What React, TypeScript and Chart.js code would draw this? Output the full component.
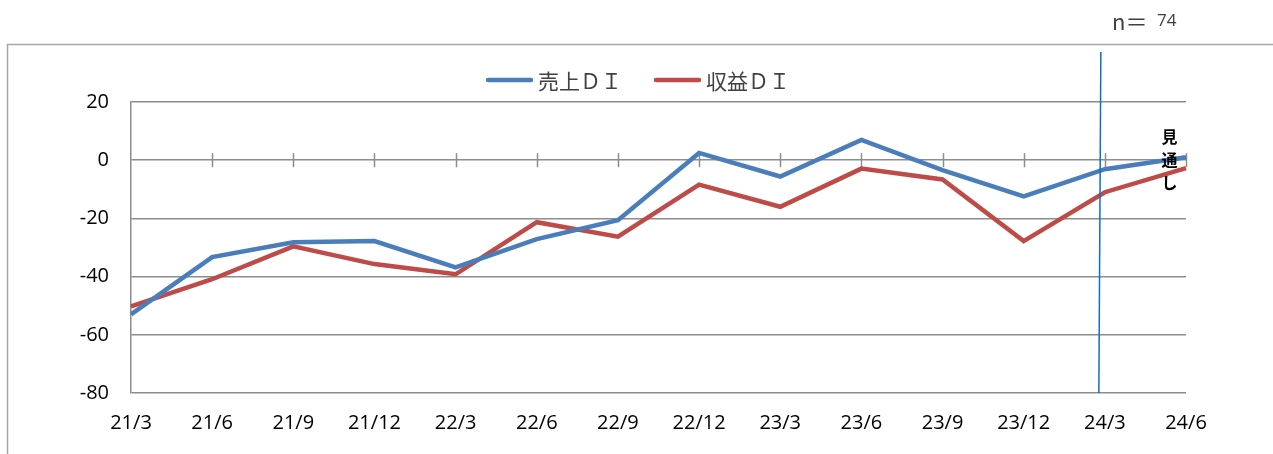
import React, { useEffect, useRef } from "react";
import { Chart, registerables } from "chart.js";

Chart.register(...registerables);

const categories = ["21/3", "21/6", "21/9", "21/12", "22/3", "22/6", "22/9", "22/12", "23/3", "23/6", "23/9", "23/12", "24/3", "24/6"];
const salesDI = [-53, -33.3, -28.2, -27.8, -36.8, -27.1, -20.6, 2.5, -5.6, 7.0, -3.4, -12.4, -3.1, 1.0];
const profitDI = [-50.2, -40.9, -29.6, -35.7, -39.2, -21.3, -26.3, -8.4, -16.0, -2.9, -6.6, -27.8, -11.0, -2.7];
const seriesLabels = ["売上ＤＩ", "収益ＤＩ"];
const seriesColors = ["#4A7EBB", "#BE4B48"];
const yMin = -80;
const yMax = 20;
const yStep = 20;
const sampleSizeLabel = "n＝";
const sampleSize = "74";
const forecastLabel = ["見", "通", "し"];
const forecastIndex = 12;

const W = 1273;
const H = 454;

const decorPlugin = {
  id: "decor",
  beforeDraw(chart: any) {
    const ctx = chart.ctx;
    ctx.save();
    ctx.fillStyle = "#ffffff";
    ctx.fillRect(0, 0, W, H);
    ctx.strokeStyle = "#a6a6a6";
    ctx.lineWidth = 1.5;
    ctx.strokeRect(7.5, 44.5, 1280, 440);
    ctx.restore();
  },
  beforeDatasetsDraw(chart: any) {
    const ctx = chart.ctx;
    const xs = chart.scales.x;
    const ys = chart.scales.y;
    const y0 = ys.getPixelForValue(0);
    ctx.save();
    ctx.strokeStyle = "#8c8c8c";
    ctx.lineWidth = 1.5;
    for (let i = 1; i < categories.length; i++) {
      const px = Math.round(xs.getPixelForValue(i)) + 0.5;
      ctx.beginPath();
      ctx.moveTo(px, y0 - 7);
      ctx.lineTo(px, y0 + 7);
      ctx.stroke();
    }
    ctx.restore();
  },
  afterDatasetsDraw(chart: any) {
    const ctx = chart.ctx;
    const xs = chart.scales.x;
    const ys = chart.scales.y;
    const area = chart.chartArea;
    ctx.save();
    // forecast divider
    const fx = xs.getPixelForValue(forecastIndex);
    ctx.strokeStyle = "#0F6FC6";
    ctx.lineWidth = 1.5;
    ctx.beginPath();
    ctx.moveTo(fx - 4, area.top - 50);
    ctx.lineTo(fx - 6, area.bottom);
    ctx.stroke();

    // forecast label
    const lx = (xs.getPixelForValue(forecastIndex) + xs.getPixelForValue(forecastIndex + 1)) / 2 + 24;
    ctx.fillStyle = "#000000";
    ctx.font = "bold 16px 'Noto Sans CJK JP'";
    ctx.textAlign = "center";
    ctx.textBaseline = "middle";
    forecastLabel.forEach((ch, i) => {
      ctx.fillText(ch, lx, ys.getPixelForValue(0) - 23 + i * 23);
    });

    // legend
    ctx.font = "21px 'Noto Sans CJK JP'";
    ctx.textAlign = "left";
    const ly = 80;
    const sampleW = 47;
    const gapText = 5;
    const gapItem = 32;
    const widths = chart.data.datasets.map((d: any) => ctx.measureText(d.label).width);
    let total = 0;
    widths.forEach((w: number, i: number) => {
      total += sampleW + gapText + w + (i > 0 ? gapItem : 0);
    });
    let x = 638 - total / 2;
    chart.data.datasets.forEach((d: any, i: number) => {
      if (i > 0) x += gapItem;
      ctx.strokeStyle = d.borderColor;
      ctx.lineWidth = 4.5;
      ctx.lineCap = "round";
      ctx.beginPath();
      ctx.moveTo(x + 2, ly);
      ctx.lineTo(x + sampleW - 2, ly);
      ctx.stroke();
      x += sampleW + gapText;
      ctx.fillStyle = "#404040";
      ctx.fillText(d.label, x, ly + 1);
      x += widths[i];
    });

    // sample size
    ctx.fillStyle = "#404040";
    ctx.font = "22px 'Noto Sans CJK JP'";
    ctx.fillText(sampleSizeLabel, 1112, 22);
    ctx.font = "17px 'Open Sans'";
    ctx.fillText(sampleSize, 1157, 21);
    ctx.restore();
  },
};

export default function App() {
  const ref = useRef<HTMLCanvasElement | null>(null);
  useEffect(() => {
    document.body.style.margin = "0";
    const canvas = ref.current!;
    const chart = new Chart(canvas, {
      type: "line",
      data: {
        labels: categories,
        datasets: [
          {
            label: seriesLabels[0],
            data: salesDI,
            borderColor: seriesColors[0],
            backgroundColor: seriesColors[0],
            borderWidth: 4.5,
            pointRadius: 0,
            tension: 0,
          },
          {
            label: seriesLabels[1],
            data: profitDI,
            borderColor: seriesColors[1],
            backgroundColor: seriesColors[1],
            borderWidth: 4.5,
            pointRadius: 0,
            tension: 0,
          },
        ],
      },
      options: {
        responsive: false,
        animation: false,
        layout: { padding: { left: 0, right: 87, top: 102, bottom: 0 } },
        plugins: {
          legend: { display: false },
          tooltip: { enabled: false },
        },
        scales: {
          x: {
            type: "category",
            offset: false,
            grid: { display: false, drawTicks: false },
            border: { display: false },
            ticks: {
              color: "#000000",
              font: { family: "'Open Sans'", size: 20 },
              padding: 18,
              maxRotation: 0,
              autoSkip: false,
            },
            afterFit: (s: any) => {
              s.height = 61;
            },
          },
          y: {
            min: yMin,
            max: yMax,
            grid: { color: "#8c8c8c", lineWidth: 1.5, drawTicks: false },
            border: { display: true, color: "#8c8c8c", width: 1.5 },
            ticks: {
              stepSize: yStep,
              color: "#000000",
              font: { family: "'Open Sans'", size: 20 },
              padding: 22,
            },
            afterFit: (s: any) => {
              s.width = 131;
            },
          },
        },
      },
      plugins: [decorPlugin],
    });
    return () => chart.destroy();
  }, []);
  return (
    <div style={{ position: "fixed", left: 0, top: 0, width: W, height: H }}>
      <canvas ref={ref} width={W} height={H} style={{ width: W, height: H }} />
    </div>
  );
}
